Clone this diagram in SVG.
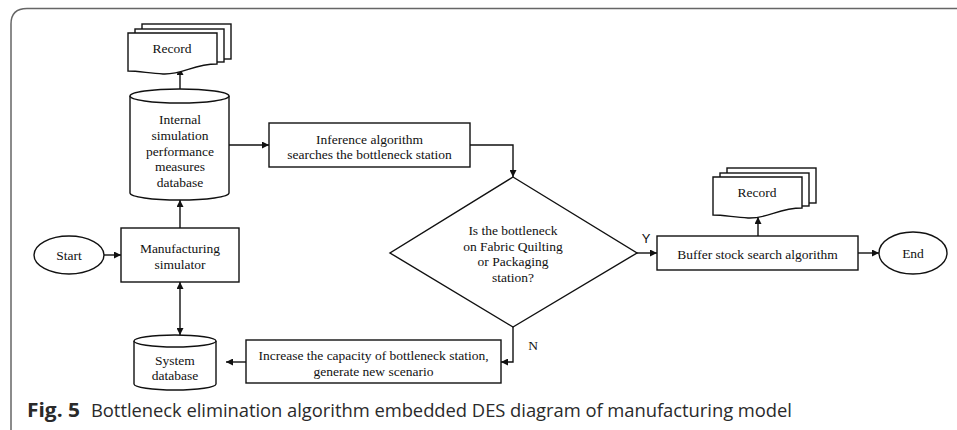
<svg xmlns="http://www.w3.org/2000/svg" xmlns:xlink="http://www.w3.org/1999/xlink" width="957" height="430" viewBox="0 0 957 430">
<style>
.ln{fill:none;stroke:#111;stroke-width:1.4}
.sh{fill:#fff;stroke:#111;stroke-width:1.4}
.t{font-family:"Liberation Serif","Times New Roman",serif;font-size:13.5px;fill:#111;text-anchor:middle}
.cap{font-family:"Open Sans","Noto Sans",sans-serif;font-size:18.4px;fill:#2a2a2a}
</style>
<defs>
<marker id="ah" viewBox="0 0 10 10" refX="10" refY="5" markerWidth="7" markerHeight="7" markerUnits="userSpaceOnUse" orient="auto-start-reverse">
<path d="M0,0 L10,5 L0,10 Z" fill="#111"/>
</marker>
<g id="doc">
<rect x="14" y="-9" width="89" height="35" class="sh"/>
<rect x="7" y="-4" width="89" height="33" class="sh"/>
<path d="M0,0 H89 V31 C65,31 55,42 35,41 C20,40 10,38 0,38 Z" class="sh"/>
</g>
</defs>
<rect width="957" height="430" fill="#fff"/>
<path d="M11,430 Q11,429 11,428 V24 Q11,8.5 27,8.5 H957" fill="none" stroke="#666" stroke-width="1.5"/>

<g id="connectors">
<line x1="180" y1="89" x2="180" y2="68" class="ln" marker-end="url(#ah)"/>
<line x1="229" y1="145" x2="269" y2="145" class="ln" marker-end="url(#ah)"/>
<polyline points="470,145 513,145 513,177" class="ln" marker-end="url(#ah)"/>
<line x1="637" y1="253" x2="657" y2="253" class="ln" marker-end="url(#ah)"/>
<line x1="758" y1="236" x2="758" y2="217" class="ln" marker-end="url(#ah)"/>
<line x1="858" y1="253" x2="879" y2="253" class="ln" marker-end="url(#ah)"/>
<polyline points="513,327 513,362 501,362" class="ln" marker-end="url(#ah)"/>
<line x1="246" y1="362" x2="226" y2="362" class="ln" marker-end="url(#ah)"/>
<line x1="180" y1="282" x2="180" y2="335" class="ln" marker-start="url(#ah)" marker-end="url(#ah)"/>
<line x1="180" y1="228" x2="180" y2="200" class="ln" marker-end="url(#ah)"/>
<line x1="104" y1="255" x2="121" y2="255" class="ln" marker-end="url(#ah)"/>
<text x="646" y="243" style="font-family:'Liberation Sans',Arial,sans-serif;font-size:13px;fill:#111;text-anchor:middle">Y</text>
<text x="533" y="350" class="t">N</text>
</g>

<g id="record1">
<use xlink:href="#doc" x="128" y="33"/>
<text x="172" y="52.5" class="t">Record</text>
</g>

<g id="perfdb">
<path d="M130,96 V193 A49.5,7 0 0 0 229,193 V96" class="sh"/>
<ellipse cx="179.5" cy="96" rx="49.5" ry="7" class="sh"/>
<text class="t"><tspan x="180" y="123.5">Internal</tspan><tspan x="180" y="139.5">simulation</tspan><tspan x="180" y="155.5">performance</tspan><tspan x="180" y="171">measures</tspan><tspan x="180" y="187">database</tspan></text>
</g>

<g id="inference">
<rect x="269" y="123" width="201" height="44" class="sh"/>
<text class="t"><tspan x="369.5" y="143.5">Inference algorithm</tspan><tspan x="369.5" y="158.5">searches the bottleneck station</tspan></text>
</g>

<g id="decision">
<polygon points="513,177 637,253 513,327 390,253" class="sh"/>
<text class="t"><tspan x="513" y="235">Is the bottleneck</tspan><tspan x="513" y="250.5">on Fabric Quilting</tspan><tspan x="513" y="266">or Packaging</tspan><tspan x="513" y="281.5">station?</tspan></text>
</g>

<g id="buffer">
<rect x="657" y="236" width="201" height="34" class="sh"/>
<text x="757.5" y="258.5" class="t">Buffer stock search algorithm</text>
</g>

<g id="record2">
<use xlink:href="#doc" x="713" y="177"/>
<text x="757" y="196.5" class="t">Record</text>
</g>

<g id="end">
<ellipse cx="913" cy="253" rx="34" ry="21" class="sh"/>
<text x="913" y="257.5" class="t">End</text>
</g>

<g id="start">
<ellipse cx="69" cy="255" rx="35" ry="19" class="sh"/>
<text x="69" y="259.5" class="t">Start</text>
</g>

<g id="simulator">
<rect x="121" y="228" width="118" height="54" class="sh"/>
<text class="t"><tspan x="180" y="252.5">Manufacturing</tspan><tspan x="180" y="268.5">simulator</tspan></text>
</g>

<g id="sysdb">
<path d="M134,341 V384 A41,6 0 0 0 216,384 V341" class="sh"/>
<ellipse cx="175" cy="341" rx="41" ry="6" class="sh"/>
<text class="t"><tspan x="175" y="364.5">System</tspan><tspan x="175" y="379.5">database</tspan></text>
</g>

<g id="increase">
<rect x="246" y="340" width="255" height="43" class="sh"/>
<text class="t"><tspan x="373.5" y="359.5">Increase the capacity of bottleneck station,</tspan><tspan x="373.5" y="376">generate new scenario</tspan></text>
</g>

<g id="caption">
<text y="417" class="cap"><tspan x="27" font-weight="bold" font-size="20" textLength="53" lengthAdjust="spacingAndGlyphs">Fig. 5</tspan><tspan x="91" textLength="701" lengthAdjust="spacing">Bottleneck elimination algorithm embedded DES diagram of manufacturing model</tspan></text>
</g>
</svg>
